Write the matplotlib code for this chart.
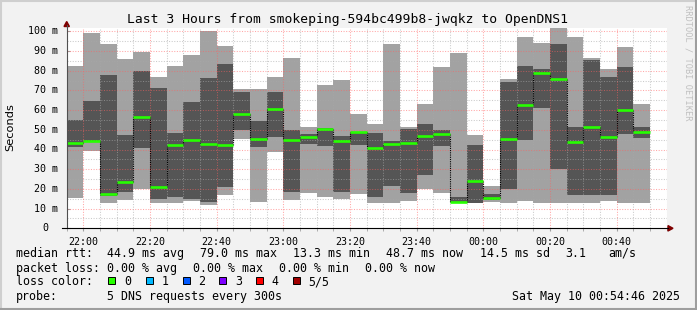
import numpy as np
import matplotlib.pyplot as plt
from matplotlib.patches import Polygon, Rectangle
from matplotlib.lines import Line2D
import matplotlib.transforms as mtransforms

# ------------------------
# Data (ms), one bar per 5 minutes, first bar starts 21:55
# ------------------------
ping_min = [15.4, 39.4, 13.0, 14.5, 20.1, 13.0, 13.0, 14.0, 11.8, 17.0,
            45.4, 13.5, 38.6, 14.5, 18.0, 15.9, 15.0, 17.5, 13.0, 13.0,
            14.0, 20.1, 18.0, 13.0, 12.8, 13.5, 13.0, 14.0, 13.0, 13.0,
            13.0, 13.0, 14.0, 13.0, 13.0]
ping_lo = [41.5, 43.8, 16.5, 18.5, 40.8, 15.0, 15.9, 15.0, 13.5, 20.9,
           50.1, 41.1, 46.2, 18.5, 42.7, 41.8, 18.5, 42.2, 15.9, 21.4,
           18.0, 27.0, 41.7, 13.2, 13.0, 14.3, 20.1, 44.7, 60.9, 30.2,
           16.9, 16.9, 16.9, 47.9, 45.9]
median = [43.3, 44.4, 17.2, 23.6, 56.5, 20.9, 42.5, 44.7, 42.8, 42.5,
          57.8, 45.2, 60.5, 45.0, 46.4, 50.6, 44.5, 49.0, 41.0, 43.0,
          43.3, 47.0, 47.9, 13.5, 23.8, 15.2, 45.5, 62.4, 78.9, 75.9,
          43.8, 51.4, 46.4, 59.9, 48.7]
ping_hi = [54.8, 64.4, 77.6, 47.2, 80.1, 71.0, 48.2, 63.9, 76.1, 83.6,
           69.0, 54.3, 69.0, 49.7, 47.9, 51.0, 47.0, 49.0, 48.2, 44.5,
           50.3, 52.8, 49.7, 16.0, 42.2, 17.2, 74.2, 82.5, 80.8, 93.6,
           51.3, 85.2, 76.6, 82.1, 51.3]
ping_max = [82.6, 99.0, 93.3, 85.7, 89.7, 76.6, 82.6, 88.2, 100.0, 92.7,
            70.7, 70.7, 76.6, 86.7, 51.3, 72.8, 75.5, 57.8, 52.8, 93.3,
            51.3, 62.9, 82.1, 89.2, 47.2, 21.4, 75.9, 97.3, 93.9, 101.5,
            97.3, 86.2, 81.1, 92.2, 62.9]

x_labels = ['22:00', '22:20', '22:40', '23:00', '23:20', '23:40', '00:00', '00:20', '00:40']
y_labels = ['0', '10 m', '20 m', '30 m', '40 m', '50 m', '60 m', '70 m', '80 m', '90 m', '100 m']

loss_labels = ['0', '1', '2', '3', '4', '5/5']
loss_colors = ['#26ff00', '#00b8ff', '#0059ff', '#7e00ff', '#ff0000', '#a10000']

stats_rtt = ['median rtt:', '44.9 ms avg', '79.0 ms max', '13.3 ms min',
             '48.7 ms now', '14.5 ms sd', '3.1', 'am/s']
stats_loss = ['packet loss:', '0.00 % avg', '0.00 % max', '0.00 % min', '0.00 % now']

# ------------------------
# Layout / style
# ------------------------
W, H = 697, 310
BACK = '#f2f2f2'
LIGHT = '#a2a2a2'
DARK = '#555555'
MONO = 'DejaVu Sans Mono'
STEP = 5  # minutes per bar


def fx(p):
    return p / W


def fy(p):
    return 1 - p / H


fig = plt.figure(figsize=(W / 100, H / 100), dpi=100, facecolor=BACK)
ax = fig.add_axes([fx(66.7), fy(228.3), 600 / W, 200 / H])
ax.set_facecolor('white')
ax.set_xlim(0, 180)
ax.set_ylim(0, 200 / 1.97)
for s in ax.spines.values():
    s.set_visible(False)

x = np.arange(len(median)) * STEP
lo = np.array(ping_min)
hi = np.array(ping_max)

# smoke
ax.bar(x, hi - lo, bottom=lo, width=STEP, align='edge', color=LIGHT, lw=0, zorder=1)
ax.bar(x, np.array(ping_hi) - np.array(ping_lo), bottom=ping_lo, width=STEP,
       align='edge', color=DARK, lw=0, zorder=2)

# grid (on top of the smoke)
for v in range(5, 101, 5):
    c, a = ('#ff6060', 0.55) if v % 10 == 0 else ('#a8a8a8', 0.6)
    ax.axhline(v, color=c, alpha=a, lw=0.75, dashes=(1, 1.5), zorder=3)
for m in range(5, 181, 5):
    c, a = ('#ff6060', 0.55) if (m - 5) % 20 == 0 else ('#a8a8a8', 0.6)
    ax.axvline(m, color=c, alpha=a, lw=0.75, dashes=(1, 1.5), zorder=3)

# median line
med = np.array(median)
ax.vlines(x[1:], med[:-1], med[1:], colors='black', lw=0.8,
          linestyles=(0, (1, 1)), zorder=4)
ax.hlines(med, x, x + STEP, colors=loss_colors[0], lw=1.9, zorder=5)

# ticks
ax.set_xticks(np.arange(5, 181, 20))
ax.set_xticklabels(x_labels, fontsize=7.2, family=MONO)
ax.set_xticks(np.arange(0, 181, 5), minor=True)
ax.tick_params(axis='x', which='both', length=2, color='#a0a0a0', pad=4)
ax.set_yticks(range(0, 101, 10))
ax.set_yticklabels([])
ax.tick_params(axis='y', which='both', length=2, color='#a0a0a0', direction='in')

ytr = mtransforms.blended_transform_factory(fig.transFigure, ax.transData)
for v, lab in zip(range(0, 101, 10), y_labels):
    xr = 58.3 if v else 48.5
    fig.text(fx(xr), v, lab, transform=ytr, ha='right', va='center',
             fontsize=7.2, family=MONO)

# axes lines with arrows
fig.add_artist(Line2D([fx(66.7), fx(66.7)], [fy(228.3), fy(25)], color='#505050', lw=0.8))
fig.add_artist(Line2D([fx(62), fx(668)], [fy(228.3), fy(228.3)], color='black', lw=0.8))
fig.add_artist(Polygon([[fx(64), fy(26.5)], [fx(69.4), fy(26.5)], [fx(66.7), fy(21.5)]],
                       closed=True, color='#7f0000', transform=fig.transFigure))
fig.add_artist(Polygon([[fx(668), fy(225.6)], [fx(668), fy(231)], [fx(673), fy(228.3)]],
                       closed=True, color='#7f0000', transform=fig.transFigure))

# titles
fig.text(fx(347.5), fy(19), 'Last 3 Hours from smokeping-594bc499b8-jwqkz to OpenDNS1',
         ha='center', va='center', fontsize=9.4, family=MONO)
fig.text(fx(10), fy(127.5), 'Seconds', rotation=90, ha='center', va='center',
         fontsize=8.2, family='DejaVu Sans')
fig.text(fx(688), fy(5), 'RRDTOOL / TOBI OETIKER', rotation=270, ha='center', va='top',
         fontsize=6.2, family=MONO, color='#c0c0c0')

# legend
LEG = 8.4
rtt_x = [16, 107.3, 200, 293.3, 386.3, 480, 565, 608]
for px, s in zip(rtt_x, stats_rtt):
    fig.text(fx(px), fy(257), s, fontsize=LEG, family=MONO, va='baseline')
loss_x = [16, 107.3, 193.3, 279.3, 365.3]
for px, s in zip(loss_x, stats_loss):
    fig.text(fx(px), fy(272), s, fontsize=LEG, family=MONO, va='baseline')

fig.text(fx(16), fy(285.3), 'loss color:', fontsize=LEG, family=MONO, va='baseline')
box_x = [108.3, 145.7, 182.7, 219.3, 256, 292.7]
for bx, c, lab in zip(box_x, loss_colors, loss_labels):
    fig.add_artist(Rectangle((fx(bx), fy(284.3)), 7 / W, 7 / H, facecolor=c,
                             edgecolor='black', lw=0.7, transform=fig.transFigure))
    fig.text(fx(bx + 15.5), fy(285.3), lab, fontsize=LEG, family=MONO, va='baseline')

fig.text(fx(16), fy(300.3), 'probe:', fontsize=LEG, family=MONO, va='baseline')
fig.text(fx(107.3), fy(300.3), '5 DNS requests every 300s', fontsize=LEG, family=MONO,
         va='baseline')
fig.text(fx(680), fy(300.3), 'Sat May 10 00:54:46 2025', fontsize=LEG, family=MONO,
         va='baseline', ha='right')

# 3d frame
fig.add_artist(Line2D([0, 1], [fy(0.5), fy(0.5)], color='#cfcfcf', lw=1.5))
fig.add_artist(Line2D([fx(0.5), fx(0.5)], [0, 1], color='#cfcfcf', lw=1.5))
fig.add_artist(Line2D([0, 1], [fy(309), fy(309)], color='#9e9e9e', lw=1.5))
fig.add_artist(Line2D([fx(696), fx(696)], [0, 1], color='#9e9e9e', lw=1.5))

fig.savefig('out.png', dpi=100, facecolor=BACK)
